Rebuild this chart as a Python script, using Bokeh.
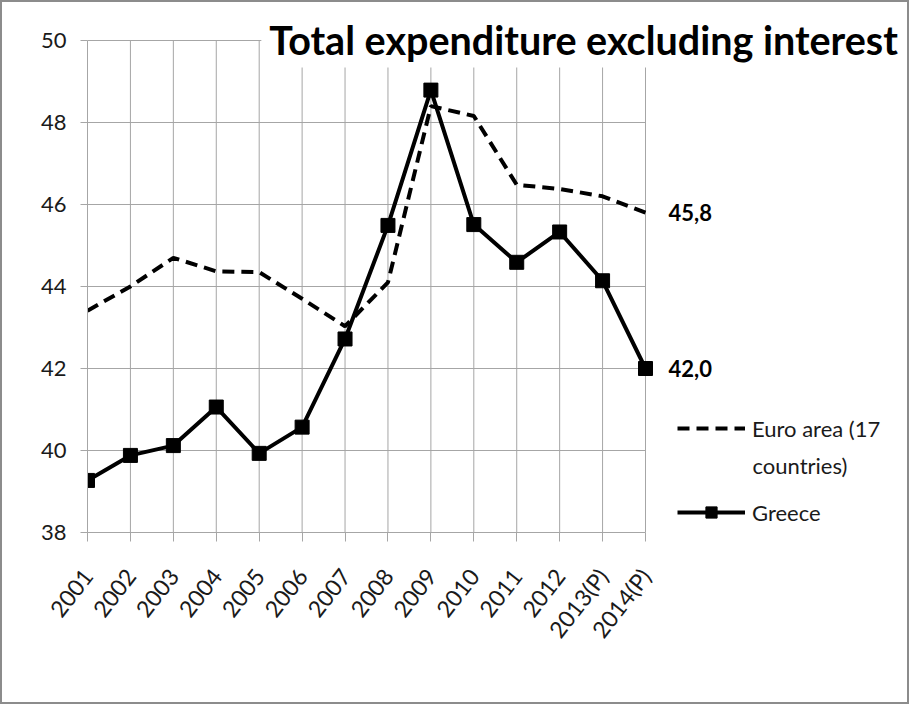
import math
from bokeh.plotting import figure
from bokeh.models import Range1d, FixedTicker, Legend, LegendItem, Label, BoxAnnotation
from bokeh.embed import file_html
from bokeh.resources import INLINE

# ---- data ----
years = ["2001", "2002", "2003", "2004", "2005", "2006", "2007", "2008",
         "2009", "2010", "2011", "2012", "2013(P)", "2014(P)"]
euro_area = [43.41, 44.00, 44.70, 44.37, 44.35, 43.70, 43.03, 44.10,
             48.40, 48.16, 46.48, 46.38, 46.20, 45.80]
greece = [39.27, 39.88, 40.12, 41.06, 39.93, 40.57, 42.72, 45.49,
          48.79, 45.51, 44.59, 45.33, 44.14, 42.00]
y_ticks = [38, 40, 42, 44, 46, 48, 50]
title_text = "Total expenditure excluding interest"
euro_name_line1 = "Euro area (17"
euro_name_line2 = "countries)"
greece_name = "Greece"
euro_end_label = "45,8"
greece_end_label = "42,0"

x = list(range(len(years)))
x_last = x[-1]
y_lo, y_hi = y_ticks[0], y_ticks[-1]

# ---- layout (pixels) ----
W, H = 909, 704            # canvas size (drawn inside a 2px border)
BORDER = 2
LEFT = 87 - BORDER         # frame left edge
BOTTOM = H - (532 - BORDER)  # frame bottom edge at 532 on the page
DATA_W_PX = 558            # width of the 2001..2014 span
UNIT_H_PX = 41             # pixels per y unit
frame_w = W - LEFT
frame_h = H - BOTTOM
x_end = x_last * frame_w / DATA_W_PX
y_end = y_lo + frame_h / UNIT_H_PX

FONT = "Lato"
GRID = "#a6a6a6"
TXT = "#1a1a1a"

p = figure(width=W, height=H, output_backend="svg", toolbar_location=None,
           x_range=Range1d(0, x_end), y_range=Range1d(y_lo, y_end),
           min_border_left=LEFT, min_border_right=0, min_border_top=0,
           min_border_bottom=BOTTOM)
p.styles = {"border": f"{BORDER}px solid #8c8c8c", "box-sizing": "border-box"}
p.outline_line_color = None
p.background_fill_color = "white"
p.border_fill_color = "white"
p.xgrid.visible = False
p.ygrid.visible = False

# axes
p.xaxis.ticker = FixedTicker(ticks=x)
p.xaxis.major_label_overrides = {i: y for i, y in enumerate(years)}
p.xaxis.major_label_orientation = math.radians(52)
p.xaxis.bounds = (0, x_last)
p.yaxis.ticker = FixedTicker(ticks=y_ticks)
p.yaxis.bounds = (y_lo, y_hi)
for ax in (p.xaxis, p.yaxis):
    ax.axis_line_color = GRID
    ax.major_tick_line_color = GRID
    ax.minor_tick_line_color = None
    ax.major_tick_in = 0
    ax.major_label_text_font = FONT
    ax.major_label_text_font_size = "22px"
    ax.major_label_text_color = TXT
p.xaxis.major_label_text_font_size = "23px"
p.xaxis.major_tick_out = 9
p.yaxis.major_tick_out = 7
p.yaxis.major_label_standoff = 14
p.xaxis.major_label_standoff = 30

# grid lines limited to the data area
p.segment(x0=[0] * len(y_ticks), x1=[x_last] * len(y_ticks), y0=y_ticks, y1=y_ticks,
          line_color=GRID, line_width=1, level="underlay")
p.segment(x0=x, x1=x, y0=[y_lo] * len(x), y1=[y_hi] * len(x),
          line_color=GRID, line_width=1, level="underlay")

# series
euro_r = p.line(x, euro_area, line_color="black", line_width=4, line_dash="12 7")
gr_line = p.line(x, greece, line_color="black", line_width=4)
gr_mark = p.scatter(x, greece, marker="square", size=14, fill_color="black", line_color="black")

# end labels
p.add_layout(Label(x=x_last, y=euro_area[-1], x_offset=23, text=euro_end_label,
                   text_font=FONT, text_font_style="bold", text_font_size="22px",
                   text_baseline="middle", text_color="black"))
p.add_layout(Label(x=x_last, y=greece[-1], x_offset=23, text=greece_end_label,
                   text_font=FONT, text_font_style="bold", text_font_size="22px",
                   text_baseline="middle", text_color="black"))

# title with white box behind it
p.add_layout(BoxAnnotation(left=4.05, right=x_end, top=y_end, bottom=y_hi - 27 / UNIT_H_PX,
                           fill_color="white", fill_alpha=1, line_color=None))
p.add_layout(Label(x=4, y=y_hi, x_offset=10, y_offset=25, text=title_text,
                   text_font=FONT, text_font_style="bold", text_font_size="39.5px",
                   text_baseline="top", text_color="black"))

# legend
legend = Legend(items=[LegendItem(label=euro_name_line1, renderers=[euro_r]),
                       LegendItem(label=greece_name, renderers=[gr_line, gr_mark])],
                location=(590, 6), orientation="vertical",
                glyph_width=68, glyph_height=28, label_height=28, label_standoff=7,
                spacing=56, padding=0, margin=0, border_line_color=None,
                background_fill_alpha=0, label_text_font=FONT,
                label_text_font_size="22px", label_text_color=TXT)
p.add_layout(legend)
p.add_layout(Label(x=x_last, y=y_lo + (532 - 465) / UNIT_H_PX, x_offset=107, text=euro_name_line2,
                   text_font=FONT, text_font_size="22px", text_baseline="middle",
                   text_color=TXT))

open("out.html", "w").write(file_html(p, INLINE))
